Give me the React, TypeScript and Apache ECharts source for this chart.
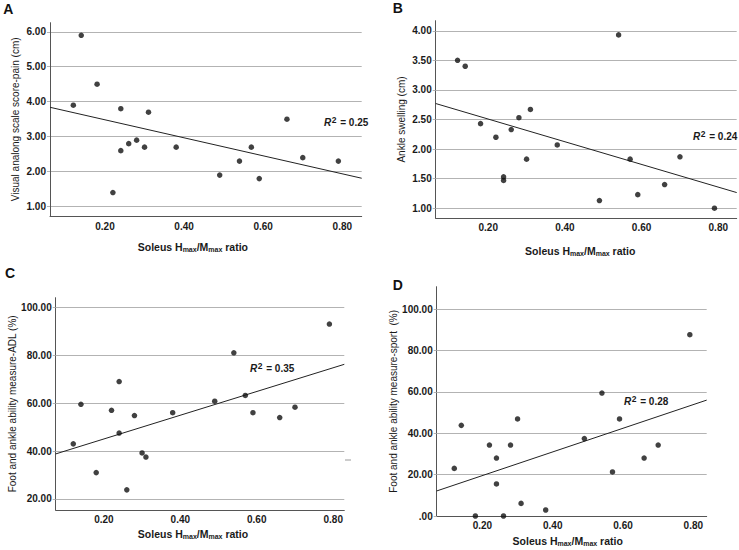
import React, { useEffect, useRef } from "react";
import * as echarts from "echarts";

// Soleus Hmax/Mmax ratio (same subjects in every panel)
const ratioX = [0.12, 0.14, 0.18, 0.22, 0.24, 0.24, 0.26, 0.28, 0.30, 0.31, 0.38, 0.49, 0.54, 0.57, 0.59, 0.66, 0.70, 0.79];
// Panel A: Visual analog scale score - pain (cm)
const vasPain = [3.9, 5.9, 4.5, 1.4, 3.8, 2.6, 2.8, 2.9, 2.7, 3.7, 2.7, 1.9, 2.3, 2.7, 1.8, 3.5, 2.4, 2.3];
// Panel B: Ankle swelling (cm)
const ankleSwelling = [3.5, 3.4, 2.43, 2.2, 1.53, 1.47, 2.33, 2.53, 1.83, 2.67, 2.07, 1.13, 3.93, 1.83, 1.23, 1.4, 1.87, 1.0];
// Panel C: FAAM-ADL (%)
const faamAdl = [43, 59.5, 31, 57, 69, 47.5, 23.8, 54.8, 39.2, 37.5, 56, 60.8, 81, 63.2, 56, 54, 58.3, 93];
// Panel D: FAAM-sport (%)
const faamSport = [23, 43.8, 0, 34.3, 28, 15.5, 0, 34.3, 46.9, 6.1, 2.9, 37.4, 59.4, 21.3, 46.9, 28, 34.3, 87.6];

// Fitted regression lines (end points)
const fitAX = [0.061, 0.849];
const fitAY = [3.84, 1.81];
const fitBX = [0.063, 0.848];
const fitBY = [2.77, 1.265];
const fitCX = [0.074, 0.829];
const fitCY = [38.8, 76.2];
const fitDX = [0.07, 0.838];
const fitDY = [12.1, 56.0];

const r2Values = ["0.25", "0.24", "0.35", "0.28"];
const panelLetters = ["A", "B", "C", "D"];

// Tick labels
const ratioTicks = [0.2, 0.4, 0.6, 0.8];
const painTicks = [1, 2, 3, 4, 5, 6];
const swellingTicks = [1, 1.5, 2, 2.5, 3, 3.5, 4];
const adlTicks = [20, 40, 60, 80, 100];
const sportTicks = [0, 20, 40, 60, 80, 100];

const yNames = [
  "Visual analong scale score-pain (cm)",
  "Ankle swelling (cm)",
  "Foot and ankle ability measure-ADL (%)",
  "Foot and ankle ability measure-sport  (%)",
];

const FONT = '"Liberation Sans", Arial, Helvetica, sans-serif';
const TXT = "#1a1a1a";
const GRIDC = "#b3b3b3";
const AXISC = "#555555";

function fmt2(v: number) {
  if (Math.abs(v) < 1e-9) return ".00";
  return v.toFixed(2);
}

function pairs(xs: number[], ys: number[]) {
  return xs.map((x, i) => [x, ys[i]]);
}

export default function App() {
  const ref = useRef<HTMLDivElement>(null);

  useEffect(() => {
    document.body.style.margin = "0";
    if (!ref.current) return;
    const chart = echarts.init(ref.current, undefined, { renderer: "svg" });

    const panels = [
      {
        grid: { left: 50, top: 22.7, width: 311.7, height: 193.3 },
        xr: [0.061, 0.849], yr: [0.73, 6.26], ySplit: 5, yTicks: painTicks,
        yGap: 30, xGap: 25, xShift: 26, xMargin: 5,
        values: vasPain, fx: fitAX, fy: fitAY,
      },
      {
        grid: { left: 435.7, top: 20.7, width: 301, height: 197.6 },
        xr: [0.063, 0.848], yr: [0.83, 4.17], ySplit: 7, yTicks: swellingTicks,
        yGap: 29, xGap: 27, xShift: 12, xMargin: 4,
        values: ankleSwelling, fx: fitBX, fy: fitBY,
      },
      {
        grid: { left: 55.7, top: 297.7, width: 288.6, height: 212.3 },
        xr: [0.074, 0.829], yr: [15.4, 104], ySplit: 5, yTicks: adlTicks,
        yGap: 36, xGap: 18, xShift: 14, xMargin: 4,
        values: faamAdl, fx: fitCX, fy: fitCY,
      },
      {
        grid: { left: 436.7, top: 286.7, width: 270, height: 229.3 },
        xr: [0.07, 0.838], yr: [0, 110.8], ySplit: 5, yTicks: sportTicks,
        yGap: 32, xGap: 19, xShift: 8, xMargin: 4,
        values: faamSport, fx: fitDX, fy: fitDY,
      },
    ];

    const grids = panels.map((p) => ({ ...p.grid, outerBoundsMode: "none", containLabel: false }));

    const xAxes = panels.map((p, i) => ({
      type: "value",
      gridIndex: i,
      min: p.xr[0],
      max: p.xr[1],
      splitNumber: 4,
      axisLine: { show: true, onZero: false, lineStyle: { color: AXISC, width: 1 } },
      axisTick: { show: false },
      splitLine: { show: false },
      axisLabel: {
        customValues: ratioTicks,
        formatter: (v: number) => fmt2(v),
        fontFamily: FONT,
        fontWeight: "bold",
        fontSize: 10,
        color: TXT,
        margin: p.xMargin,
      },
      name: "{t|Soleus H}{s|max}{t|/M}{s|max}{t| ratio}",
      nameLocation: "middle",
      nameGap: p.xGap,
      nameTextStyle: {
        padding: [0, p.xShift, 0, 0],
        rich: {
          t: { fontFamily: FONT, fontWeight: "bold", fontSize: 10.5, color: TXT },
          s: { fontFamily: FONT, fontWeight: "bold", fontSize: 7, color: TXT, padding: [5, 0, 0, 0] },
        },
      },
    }));

    const yAxes = panels.map((p, i) => ({
      type: "value",
      gridIndex: i,
      min: p.yr[0],
      max: p.yr[1],
      splitNumber: p.ySplit,
      axisLine: { show: true, onZero: false, lineStyle: { color: AXISC, width: 1 } },
      axisTick: { show: true, length: 3, customValues: p.yTicks, lineStyle: { color: GRIDC, width: 1 } },
      splitLine: { show: true, lineStyle: { color: GRIDC, width: 1 } },
      axisLabel: {
        customValues: p.yTicks,
        formatter: (v: number) => fmt2(v),
        fontFamily: FONT,
        fontWeight: "bold",
        fontSize: 10,
        color: TXT,
        margin: 4,
      },
      name: yNames[i],
      nameLocation: "middle",
      nameGap: p.yGap,
      nameTextStyle: { fontFamily: FONT, fontSize: 10, color: TXT },
    }));

    const series: any[] = [];
    panels.forEach((p, i) => {
      series.push({
        type: "scatter",
        xAxisIndex: i,
        yAxisIndex: i,
        data: pairs(ratioX, p.values),
        symbolSize: 5.5,
        itemStyle: { color: "#111111" },
        silent: true,
        z: 3,
      });
      series.push({
        type: "line",
        xAxisIndex: i,
        yAxisIndex: i,
        data: pairs(p.fx, p.fy),
        symbol: "none",
        lineStyle: { color: "#222222", width: 1 },
        silent: true,
        z: 2,
      });
    });

    const r2Pos = [
      { x: 324, y: 122 },
      { x: 693, y: 136 },
      { x: 250, y: 368 },
      { x: 624, y: 401 },
    ];
    const letterPos = [
      { x: 3.3, y: 8.7 },
      { x: 392.7, y: 8 },
      { x: 5, y: 273 },
      { x: 392.7, y: 285 },
    ];

    const graphic: any[] = [];
    r2Values.forEach((r, i) => {
      graphic.push({
        type: "text",
        x: r2Pos[i].x,
        y: r2Pos[i].y,
        silent: true,
        style: {
          text: "{r|R}{s|2}{n| = " + r + "}",
          verticalAlign: "middle",
          align: "left",
          rich: {
            r: { fontFamily: FONT, fontWeight: "bold", fontStyle: "italic", fontSize: 10, fill: TXT },
            s: { fontFamily: FONT, fontWeight: "bold", fontSize: 8.5, fill: TXT, padding: [0, 1, 5, 0.5] },
            n: { fontFamily: FONT, fontWeight: "bold", fontSize: 10, fill: TXT },
          },
        },
      });
    });
    panelLetters.forEach((l, i) => {
      graphic.push({
        type: "text",
        x: letterPos[i].x,
        y: letterPos[i].y,
        silent: true,
        style: {
          text: l,
          verticalAlign: "middle",
          align: "left",
          font: "bold 14px " + FONT,
          fill: "#111111",
        },
      });
    });
    graphic.push({
      type: "line",
      silent: true,
      shape: { x1: 345, y1: 460, x2: 351, y2: 460 },
      style: { stroke: "#9a9a9a", lineWidth: 1 },
    });

    chart.setOption({
      animation: false,
      backgroundColor: "#ffffff",
      grid: grids,
      xAxis: xAxes,
      yAxis: yAxes,
      series,
      graphic,
    });

    return () => {
      chart.dispose();
    };
  }, []);

  return <div ref={ref} style={{ width: 739, height: 550 }} />;
}
